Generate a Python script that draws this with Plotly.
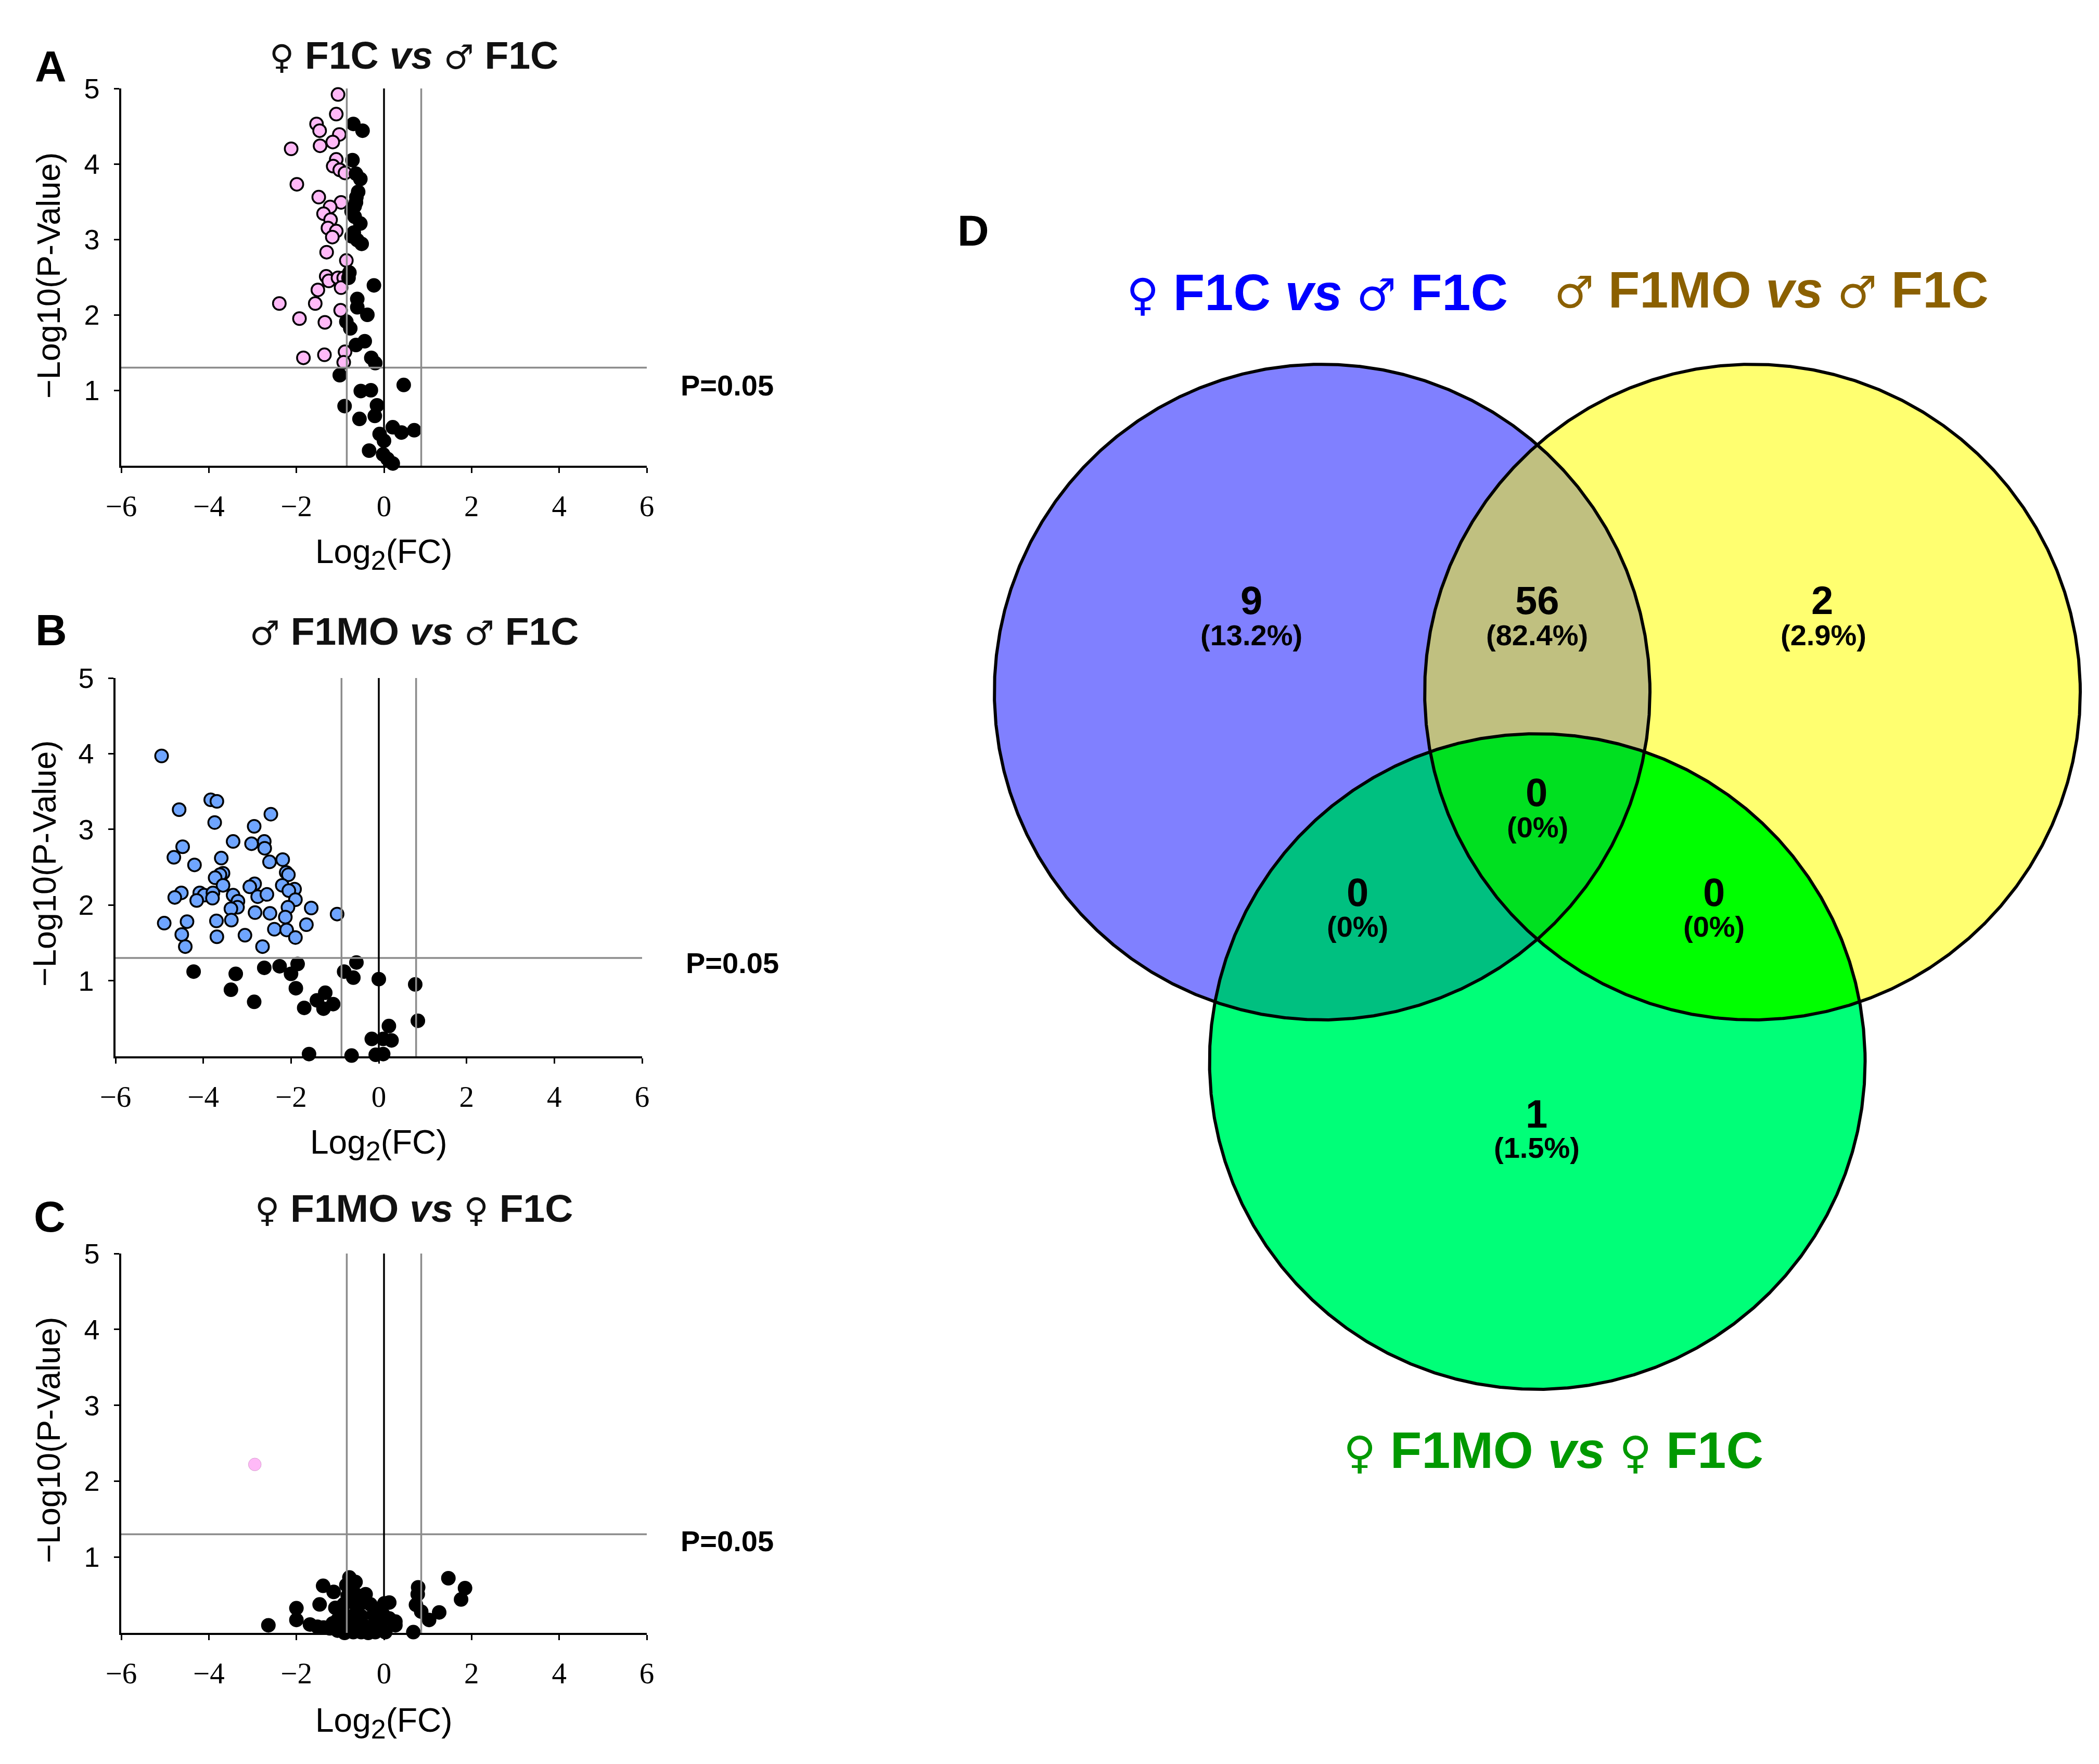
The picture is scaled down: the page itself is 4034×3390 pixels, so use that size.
import numpy as np
import plotly.graph_objects as go

W, H = 4034, 3390

# ---------- data ----------
a_pink_x = [-1.05,-1.09,-1.54,-1.47,-1.02,-1.17,-1.46,-2.12,-1.09,-1.16,-1.01,-0.89,-1.99,-1.49,-0.98,-1.23,-1.38,-1.22,-1.28,-1.09,-1.18,-1.31,-0.86,-1.32,-1.26,-1.05,-0.92,-1.51,-0.98,-2.39,-1.57,-0.99,-1.93,-1.35,-0.89,-1.36,-1.84,-0.92]
a_pink_y = [4.92,4.66,4.53,4.44,4.39,4.29,4.24,4.20,4.06,3.97,3.92,3.88,3.73,3.56,3.49,3.43,3.34,3.26,3.15,3.11,3.03,2.83,2.72,2.51,2.45,2.49,2.49,2.33,2.36,2.15,2.15,2.06,1.95,1.90,1.51,1.47,1.43,1.37]
a_black_x = [-0.70,-0.49,-0.72,-0.64,-0.54,-0.59,-0.63,-0.64,-0.67,-0.74,-0.67,-0.54,-0.69,-0.74,-0.61,-0.51,-0.79,-0.81,-0.23,-0.61,-0.61,-0.38,-0.86,-0.77,-0.44,-0.64,-0.29,-0.20,-1.01,0.45,-0.53,-0.30,-0.16,-0.90,-0.21,-0.56,-0.10,0.20,0.40,0.69,0.0,-0.34,-0.02,0.08,0.20]
a_black_y = [4.53,4.44,4.05,3.87,3.80,3.63,3.56,3.49,3.44,3.37,3.30,3.21,3.09,3.04,2.99,2.94,2.56,2.49,2.39,2.21,2.10,2.00,1.91,1.82,1.65,1.60,1.43,1.36,1.20,1.07,0.99,1.00,0.80,0.79,0.66,0.62,0.42,0.51,0.44,0.47,0.33,0.20,0.15,0.09,0.03]

b_blue_x = [-4.95,-3.83,-3.69,-4.55,-2.46,-3.74,-2.84,-3.32,-2.61,-2.90,-2.60,-4.47,-4.67,-3.59,-2.19,-2.49,-4.20,-3.55,-3.62,-2.11,-2.06,-3.73,-3.55,-2.83,-2.94,-2.20,-1.92,-2.05,-4.50,-4.08,-3.98,-3.78,-3.79,-3.32,-2.76,-2.55,-4.65,-4.15,-3.21,-1.90,-3.22,-2.07,-1.54,-3.37,-2.82,-2.48,-0.95,-2.13,-4.89,-4.37,-3.70,-3.36,-1.65,-2.38,-2.10,-4.49,-3.05,-3.69,-1.90,-2.65,-4.41]
b_blue_y = [3.97,3.39,3.37,3.26,3.20,3.09,3.04,2.84,2.84,2.81,2.75,2.77,2.63,2.62,2.60,2.57,2.53,2.42,2.40,2.43,2.40,2.36,2.26,2.28,2.24,2.26,2.21,2.19,2.16,2.16,2.13,2.16,2.09,2.13,2.11,2.14,2.10,2.06,2.05,2.07,1.97,1.97,1.96,1.95,1.90,1.89,1.88,1.84,1.76,1.78,1.79,1.80,1.74,1.68,1.67,1.61,1.60,1.58,1.57,1.45,1.45]
b_black_x = [-0.51,-1.85,-2.26,-2.61,-4.22,-3.26,-2.00,-0.79,-0.58,0.0,0.83,-3.37,-1.89,-1.22,-1.41,-1.04,-2.84,-1.70,-1.26,0.89,0.23,-0.16,0.10,0.29,-1.59,-0.62,-0.07,0.10]
b_black_y = [1.24,1.22,1.19,1.17,1.12,1.09,1.09,1.12,1.04,1.02,0.95,0.88,0.90,0.84,0.74,0.69,0.72,0.64,0.63,0.47,0.40,0.23,0.23,0.21,0.03,0.01,0.02,0.03]

c_pink_x = [-2.95]
c_pink_y = [2.22]
c_black_x = [-2.64,-2.0,-2.0,-1.69,-1.47,-1.39,-1.15,-0.79,-0.65,-0.86,1.47,1.85,1.76,0.78,0.77,0.73,0.85,1.26,1.03,0.67,0.12,0.01,-0.42,-1.11,-1.52,-1.38,-1.24,-1.17,-1.06,-0.90,-0.97,-0.92,-0.83,-0.74,-0.65,-0.56,-0.31,-0.74,-0.52,-0.24,-0.02,0.26,0.26,0.12,0.03,-0.52,-0.36,-0.20,-0.70,-0.47,-0.11,-0.29,-0.83,-1.06,-0.92,-0.65,-0.47,-0.79,-0.06,-0.70]
c_black_y = [0.10,0.325,0.17,0.11,0.375,0.62,0.54,0.73,0.67,0.63,0.72,0.59,0.44,0.60,0.51,0.37,0.28,0.27,0.17,0.01,0.40,0.39,0.51,0.33,0.08,0.07,0.06,0.125,0.03,0.0,0.22,0.375,0.49,0.56,0.51,0.375,0.375,0.22,0.22,0.24,0.24,0.15,0.10,0.19,0.01,0.01,0.0,0.01,0.08,0.10,0.10,0.08,0.125,0.17,0.08,0.375,0.47,0.65,0.33,0.01]

x_ticks = [-6,-4,-2,0,2,4,6]
y_ticks = [1,2,3,4,5]
fc_thresholds = [-0.85, 0.85]
p_threshold = 1.3

venn_counts = ['9','56','2','0','0','0','1']
venn_percents = ['(13.2%)','(82.4%)','(2.9%)','(0%)','(0%)','(0%)','(1.5%)']

# ---------- layout geometry (pixels) ----------
PANELS = [
    dict(n='',  box=(233,1243,170,895),   label='A', lab=(97,128),  tc=(795,106),  y_tc=(93,530),  x_tc=(738,1065), p=(1397,741)),
    dict(n='2', box=(222,1234,1303,2030), label='B', lab=(98,1211), tc=(796,1213), y_tc=(85,1660), x_tc=(728,2200), p=(1407,1850)),
    dict(n='3', box=(233,1243,2409,3138), label='C', lab=(95,2338), tc=(795,2322), y_tc=(93,2768), x_tc=(738,3311), p=(1397,2961)),
]
SANS = 'Liberation Sans'
SERIF = 'Liberation Serif'
GREY = '#8c8c8c'

def px(x): return x / W
def py(y): return 1 - y / H

def sym(ch, size):
    return f'<span style="font-family:\'DejaVu Sans\';font-size:{size}px">{ch}</span>'

def title(a, m1, b, m2, size):
    s = size * 0.86
    return f'{sym(a,s)} {m1} <i>vs</i> {sym(b,s)} {m2}'

F = '\u2640'; M = '\u2642'
panel_titles = [title(F,'F1C',M,'F1C',75), title(M,'F1MO',M,'F1C',75), title(F,'F1MO',F,'F1C',75)]
venn_titles = [title(F,'F1C',M,'F1C',99), title(M,'F1MO',M,'F1C',99), title(F,'F1MO',F,'F1C',99)]

fig = go.Figure()
annots = []

def note(text, x, y, size, color='black', bold=True, family=SANS, angle=0):
    annots.append(dict(text=text, x=px(x), y=py(y), xref='paper', yref='paper',
                       xanchor='center', yanchor='middle', showarrow=False, textangle=angle,
                       font=dict(family=family, size=size, color=color, weight=700 if bold else 400)))

series = [
    (a_pink_x, a_pink_y, '#FFB9F7', 'black', 3.5, a_black_x, a_black_y),
    (b_blue_x, b_blue_y, '#6FA5FF', 'black', 3.5, b_black_x, b_black_y),
    (c_pink_x, c_pink_y, '#FFB9F7', '#d8a0d0', 1, c_black_x, c_black_y),
]

layout_axes = {}
for pan, (cx, cy, cfill, cline, lw, kx, ky), ttl in zip(PANELS, series, panel_titles):
    n = pan['n']
    xa, ya = 'x' + n, 'y' + n
    x0, x1, y0, y1 = pan['box']
    fig.add_trace(go.Scatter(x=cx, y=cy, xaxis=xa, yaxis=ya, mode='markers', cliponaxis=False, showlegend=False,
                             marker=dict(size=24.5, color=cfill, line=dict(color=cline, width=lw))))
    fig.add_trace(go.Scatter(x=kx, y=ky, xaxis=xa, yaxis=ya, mode='markers', cliponaxis=False, showlegend=False,
                             marker=dict(size=24.5, color='black', line=dict(color='black', width=3.5))))
    for t in fc_thresholds:
        fig.add_trace(go.Scatter(x=[t,t], y=[0,5], xaxis=xa, yaxis=ya, mode='lines', showlegend=False,
                                 cliponaxis=False, line=dict(color=GREY, width=3.5)))
    fig.add_trace(go.Scatter(x=[-6,6], y=[p_threshold]*2, xaxis=xa, yaxis=ya, mode='lines', showlegend=False,
                             cliponaxis=False, line=dict(color=GREY, width=3.5)))
    fig.add_trace(go.Scatter(x=[0,0], y=[0,5], xaxis=xa, yaxis=ya, mode='lines', showlegend=False,
                             cliponaxis=False, line=dict(color='black', width=3.5)))
    layout_axes['xaxis' + n] = dict(domain=[px(x0), px(x1)], range=[-6,6], anchor=ya, tickmode='array', tickvals=x_ticks,
                                    ticks='outside', ticklen=10, tickwidth=3, tickcolor='black', showline=True, linecolor='black',
                                    linewidth=3.5, showgrid=False, zeroline=False, layer='below traces',
                                    ticklabelstandoff=15, tickfont=dict(family=SERIF, size=57, color='black'))
    layout_axes['yaxis' + n] = dict(domain=[py(y1), py(y0)], range=[0,5], anchor=xa, tickmode='array', tickvals=y_ticks,
                                    ticks='outside', ticklen=10, tickwidth=3, tickcolor='black',
                                    showline=True, linecolor='black', linewidth=3.5, showgrid=False, zeroline=False,
                                    layer='below traces', ticklabelstandoff=17, tickfont=dict(family=SANS, size=54, color='black'))
    note(ttl, *pan['tc'], 75, color='#111111')
    note(pan['label'], *pan['lab'], 84)
    note('Log<sub><span style="font-size:52px">2</span></sub>(FC)', *pan['x_tc'], 64, bold=False)
    note('\u2212Log10(P-Value)', *pan['y_tc'], 63, bold=False, angle=-90)
    note('P=0.05', *pan['p'], 56)

# ---------- Venn ----------
VX0 = 1600
layout_axes['xaxis4'] = dict(domain=[px(VX0),1], range=[VX0,W], visible=False, anchor='y4', fixedrange=True)
layout_axes['yaxis4'] = dict(domain=[0,1], range=[H,0], visible=False, anchor='x4', fixedrange=True)

C = np.array([[2541.,1330.],[3368.,1330.],[2954.5,2040.]])
R = 630.0
th = np.linspace(0, 2*np.pi, 2881)

def circle(i):
    return C[i,0] + R*np.cos(th), C[i,1] + R*np.sin(th)

def region(idx):
    pts = []
    for i in idx:
        x, y = circle(i)
        m = np.ones_like(x, bool)
        for j in idx:
            if j != i:
                m &= (x-C[j,0])**2 + (y-C[j,1])**2 <= R*R
        pts.append(np.c_[x[m], y[m]])
    p = np.vstack(pts)
    c = p.mean(0)
    o = np.argsort(np.arctan2(p[:,1]-c[1], p[:,0]-c[0]))
    p = p[o]
    return np.r_[p[:,0], p[0,0]], np.r_[p[:,1], p[0,1]]

regions = [((0,), '#8080FF'), ((1,), '#FFFF70'), ((2,), '#00FF78'),
           ((0,1), '#C0C080'), ((0,2), '#00C080'), ((1,2), '#00FF00'), ((0,1,2), '#00E020')]
for idx, col in regions:
    x, y = region(idx)
    fig.add_trace(go.Scatter(x=x, y=y, xaxis='x4', yaxis='y4', mode='lines', fill='toself', fillcolor=col,
                             line=dict(width=0, color=col), showlegend=False, hoverinfo='skip'))
for i in range(3):
    x, y = circle(i)
    fig.add_trace(go.Scatter(x=x, y=y, xaxis='x4', yaxis='y4', mode='lines', showlegend=False, hoverinfo='skip',
                             line=dict(color='black', width=6)))

count_xy = [(2405,1153),(2954,1153),(3502,1153),(2953,1522),(2609,1714),(3294,1714),(2953,2140)]
pct_xy = [(2405,1221),(2954,1221),(3504,1221),(2955,1589),(2609,1781),(3294,1781),(2953,2205)]
for t, xy in zip(venn_counts, count_xy):
    note(t, *xy, 76)
for t, xy in zip(venn_percents, pct_xy):
    note(t, *xy, 56)

note(venn_titles[0], 2531, 561, 99, color='#0000FF')
note(venn_titles[1], 3404, 556, 99, color='#8B6000')
note(venn_titles[2], 2985, 2786, 99, color='#009900')
note('D', 1870, 443, 84)

fig.update_layout(width=W, height=H, margin=dict(l=0,r=0,t=0,b=0,autoexpand=False), autosize=False,
                  paper_bgcolor='white', plot_bgcolor='rgba(0,0,0,0)', showlegend=False,
                  annotations=annots, **layout_axes)
fig.write_html("out.html", post_script="document.body.style.margin='0';", config=dict(displayModeBar=False))
